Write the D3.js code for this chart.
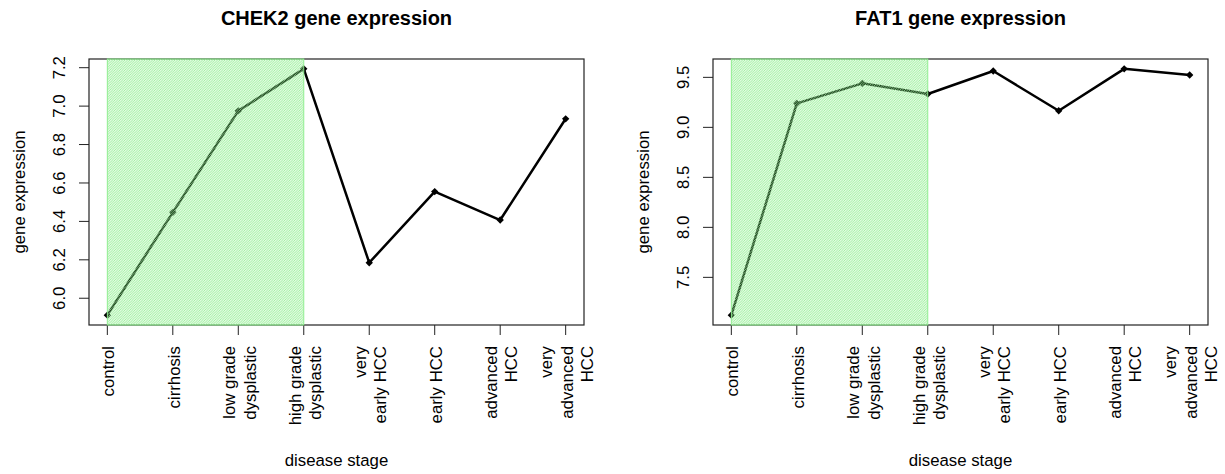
<!DOCTYPE html>
<html>
<head>
<meta charset="utf-8">
<script src="https://cdn.jsdelivr.net/npm/d3@7"></script>
<style>
  body { margin: 0; background: #fff; }
  svg { display: block; font-family: "Liberation Sans", Arial, Helvetica, sans-serif; }
</style>
</head>
<body>
<div id="chart"></div>
<script>
// disease stages (x categories), "\n" splits the tick label into lines
const stages = ['control', 'cirrhosis', 'low grade\ndysplastic', 'high grade\ndysplastic',
  'very\nearly HCC', 'early HCC', 'advanced\nHCC', 'very\nadvanced\nHCC'];

// mean expression per stage
const chek2Values = [5.912, 6.447, 6.975, 7.194, 6.185, 6.555, 6.407, 6.934];
const fat1Values = [7.122, 9.240, 9.440, 9.333, 9.563, 9.166, 9.585, 9.523];

// y tick labels
const chek2Ticks = [6.0, 6.2, 6.4, 6.6, 6.8, 7.0, 7.2];
const fat1Ticks = [7.5, 8.0, 8.5, 9.0, 9.5];

// pre-neoplastic stages that get the green shading (first..last index)
const shadedRange = [0, 3];

const W = 1225, H = 474;
const FS = 16.8;
const svg = d3.select('#chart').append('svg')
  .attr('width', W)
  .attr('height', H);

// hatch pattern like R's rect(density=...) with 45 degree lines
const defs = svg.append('defs');
defs.append('pattern')
  .attr('id', 'hatch')
  .attr('patternUnits', 'userSpaceOnUse')
  .attr('width', 2.5)
  .attr('height', 2.5)
  .append('path')
  .attr('d', 'M-1,1 L1,-1 M0,2.5 L2.5,0 M1.5,3.5 L3.5,1.5')
  .attr('stroke', '#90ee90')
  .attr('stroke-width', 0.85);

function drawPanel(opts) {
  const { title, values, ticks, left, right } = opts;
  const top = 59, bottom = 325;
  const g = svg.append('g');

  // R style axis range: data range padded by 4 %
  const n = values.length;
  const x = d3.scaleLinear()
    .domain([1 - 0.04 * (n - 1), n + 0.04 * (n - 1)])
    .range([left, right]);
  const [lo, hi] = d3.extent(values);
  const pad = (hi - lo) * 0.04;
  const y = d3.scaleLinear()
    .domain([lo - pad, hi + pad])
    .range([bottom, top]);

  // x axis ticks
  g.append('g')
    .selectAll('line')
    .data(stages)
    .enter().append('line')
    .attr('x1', (d, i) => x(i + 1))
    .attr('x2', (d, i) => x(i + 1))
    .attr('y1', bottom)
    .attr('y2', bottom + 10)
    .attr('stroke', '#222')
    .attr('stroke-width', 1);

  // x tick labels, rotated, possibly multi-line
  const lineGap = 20.5;
  const xl = g.append('g')
    .attr('font-size', FS)
    .attr('fill', '#000');
  stages.forEach((s, i) => {
    const lines = s.split('\n');
    lines.forEach((t, j) => {
      const off = 7 + (j - (lines.length - 1) / 2) * lineGap;
      const px = x(i + 1) + off, py = 346;
      xl.append('text')
        .attr('transform', `translate(${px},${py}) rotate(-90)`)
        .attr('text-anchor', 'end')
        .text(t);
    });
  });

  // y axis ticks and labels
  const yg = g.append('g');
  yg.selectAll('line')
    .data(ticks)
    .enter().append('line')
    .attr('x1', left - 10)
    .attr('x2', left)
    .attr('y1', d => y(d))
    .attr('y2', d => y(d))
    .attr('stroke', '#222');
  yg.selectAll('text')
    .data(ticks)
    .enter().append('text')
    .attr('transform', d => `translate(${left - 24},${y(d)}) rotate(-90)`)
    .attr('text-anchor', 'middle')
    .attr('font-size', FS)
    .text(d => d.toFixed(1));

  // data line + diamond markers
  const line = d3.line()
    .x((d, i) => x(i + 1))
    .y(d => y(d));
  g.append('path')
    .datum(values)
    .attr('d', line)
    .attr('fill', 'none')
    .attr('stroke', '#000')
    .attr('stroke-width', 2.5)
    .attr('stroke-linejoin', 'round');
  g.append('g')
    .selectAll('path')
    .data(values)
    .enter().append('path')
    .attr('transform', (d, i) => `translate(${x(i + 1)},${y(d)}) rotate(45)`)
    .attr('d', 'M-2.6,-2.6 L2.6,-2.6 L2.6,2.6 L-2.6,2.6 Z')
    .attr('fill', '#000');

  // plot box
  g.append('rect')
    .attr('x', left)
    .attr('y', top)
    .attr('width', right - left)
    .attr('height', bottom - top)
    .attr('fill', 'none')
    .attr('stroke', '#222')
    .attr('stroke-width', 1.2);

  // green hatched region drawn over everything, like R does
  g.append('rect')
    .attr('x', x(shadedRange[0] + 1))
    .attr('y', top)
    .attr('width', x(shadedRange[1] + 1) - x(shadedRange[0] + 1))
    .attr('height', bottom - top)
    .attr('fill', 'url(#hatch)')
    .attr('stroke', '#90ee90')
    .attr('stroke-width', 1);

  const cx = (left + right) / 2;
  // title
  g.append('text')
    .attr('x', cx)
    .attr('y', 24.5)
    .attr('text-anchor', 'middle')
    .attr('font-size', 20)
    .attr('font-weight', 'bold')
    .text(title);

  // axis titles
  g.append('text')
    .attr('x', cx)
    .attr('y', 466)
    .attr('text-anchor', 'middle')
    .attr('font-size', FS)
    .text('disease stage');
  g.append('text')
    .attr('transform', `translate(${left - 64.5},${(top + bottom) / 2}) rotate(-90)`)
    .attr('text-anchor', 'middle')
    .attr('font-size', FS)
    .text('gene expression');
}

drawPanel({ title: 'CHEK2 gene expression', values: chek2Values, ticks: chek2Ticks, left: 89, right: 584 });
drawPanel({ title: 'FAT1 gene expression', values: fat1Values, ticks: fat1Ticks, left: 713, right: 1208 });
</script>
</body>
</html>
